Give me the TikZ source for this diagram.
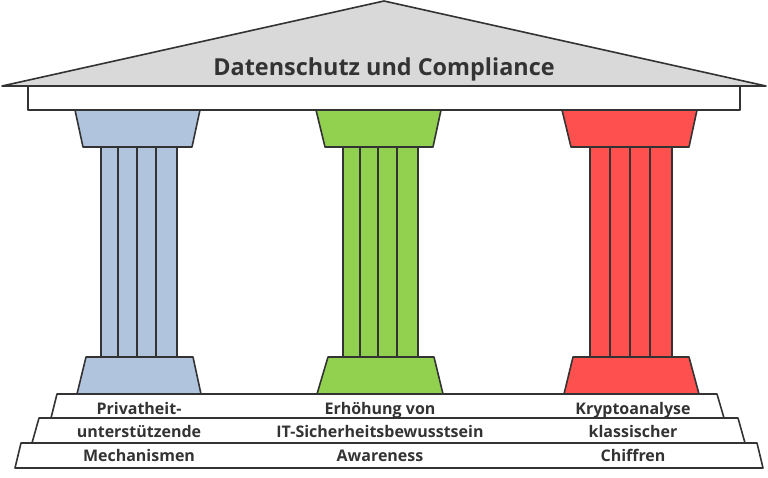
\documentclass[tikz,border=0pt]{standalone}
\usepackage{fontspec}
\setmainfont{Open Sans}
\definecolor{lineg}{HTML}{333333}
\definecolor{roofg}{HTML}{D9D9D9}
\definecolor{pblue}{HTML}{B0C4DE}
\definecolor{pgreen}{HTML}{92D050}
\definecolor{pred}{HTML}{FF5050}
\definecolor{txtg}{HTML}{333333}
\tikzset{
  part/.style={draw=lineg, line width=1.6pt, line join=round},
  steptxt/.style={font=\fontsize{16}{18}\selectfont\bfseries, text=txtg, inner sep=0pt, anchor=base},
}
\begin{document}
\begin{tikzpicture}[x=1pt,y=-1pt]
\useasboundingbox (0,0) rectangle (768,477);
% roof
\draw[part, fill=roofg] (2,86) -- (384,1) -- (766,86) -- cycle;
\node[font=\fontsize{23.4}{28}\selectfont\bfseries, text=txtg, inner sep=0pt, anchor=base] (title) at (384,75) {Datenschutz und Compliance};
% architrave
\draw[part, fill=white] (28,86) rectangle (740,110);
% steps
\draw[part, fill=white] (21,443) -- (757,443) -- (763,468) -- (15,468) -- cycle;
\draw[part, fill=white] (39,418) -- (738,418) -- (745,443) -- (32,443) -- cycle;
\draw[part, fill=white] (57,394) -- (717,394) -- (724,418) -- (51,418) -- cycle;
% pillars
\foreach \col/\ctl/\ctr/\cbl/\cbr/\sa/\sb/\sc/\sd/\se/\btl/\btr/\bbl/\bbr in {
  pblue/75/200/83/192/101/118/137/156/177/86/193/77/201,
  pgreen/316/441/325/433/343/360/378/397/418/328/434/317/443,
  pred/562/697/571/689/590/610/630/650/672/573/689/564/699}{
  \draw[part, fill=\col] (\ctl,110) -- (\ctr,110) -- (\cbr,147) -- (\cbl,147) -- cycle;
  \draw[part, fill=\col] (\sa,147) rectangle (\se,357);
  \draw[part] (\sb,147) -- (\sb,357) (\sc,147) -- (\sc,357) (\sd,147) -- (\sd,357);
  \draw[part, fill=\col] (\btl,357) -- (\btr,357) -- (\bbr,394) -- (\bbl,394) -- cycle;
}
% labels
\node[steptxt] (a1) at (139,414) {Privatheit-};
\node[steptxt] (a2) at (139,437) {unterstützende};
\node[steptxt] (a3) at (139,461) {Mechanismen};
\node[steptxt] (b1) at (380,414) {Erhöhung von};
\node[steptxt] (b2) at (380,437) {IT-Sicherheitsbewusstsein};
\node[steptxt] (b3) at (380,461) {Awareness};
\node[steptxt] (c1) at (633,414) {Kryptoanalyse};
\node[steptxt] (c2) at (633,437) {klassischer};
\node[steptxt] (c3) at (633,461) {Chiffren};
\end{tikzpicture}
\end{document}
